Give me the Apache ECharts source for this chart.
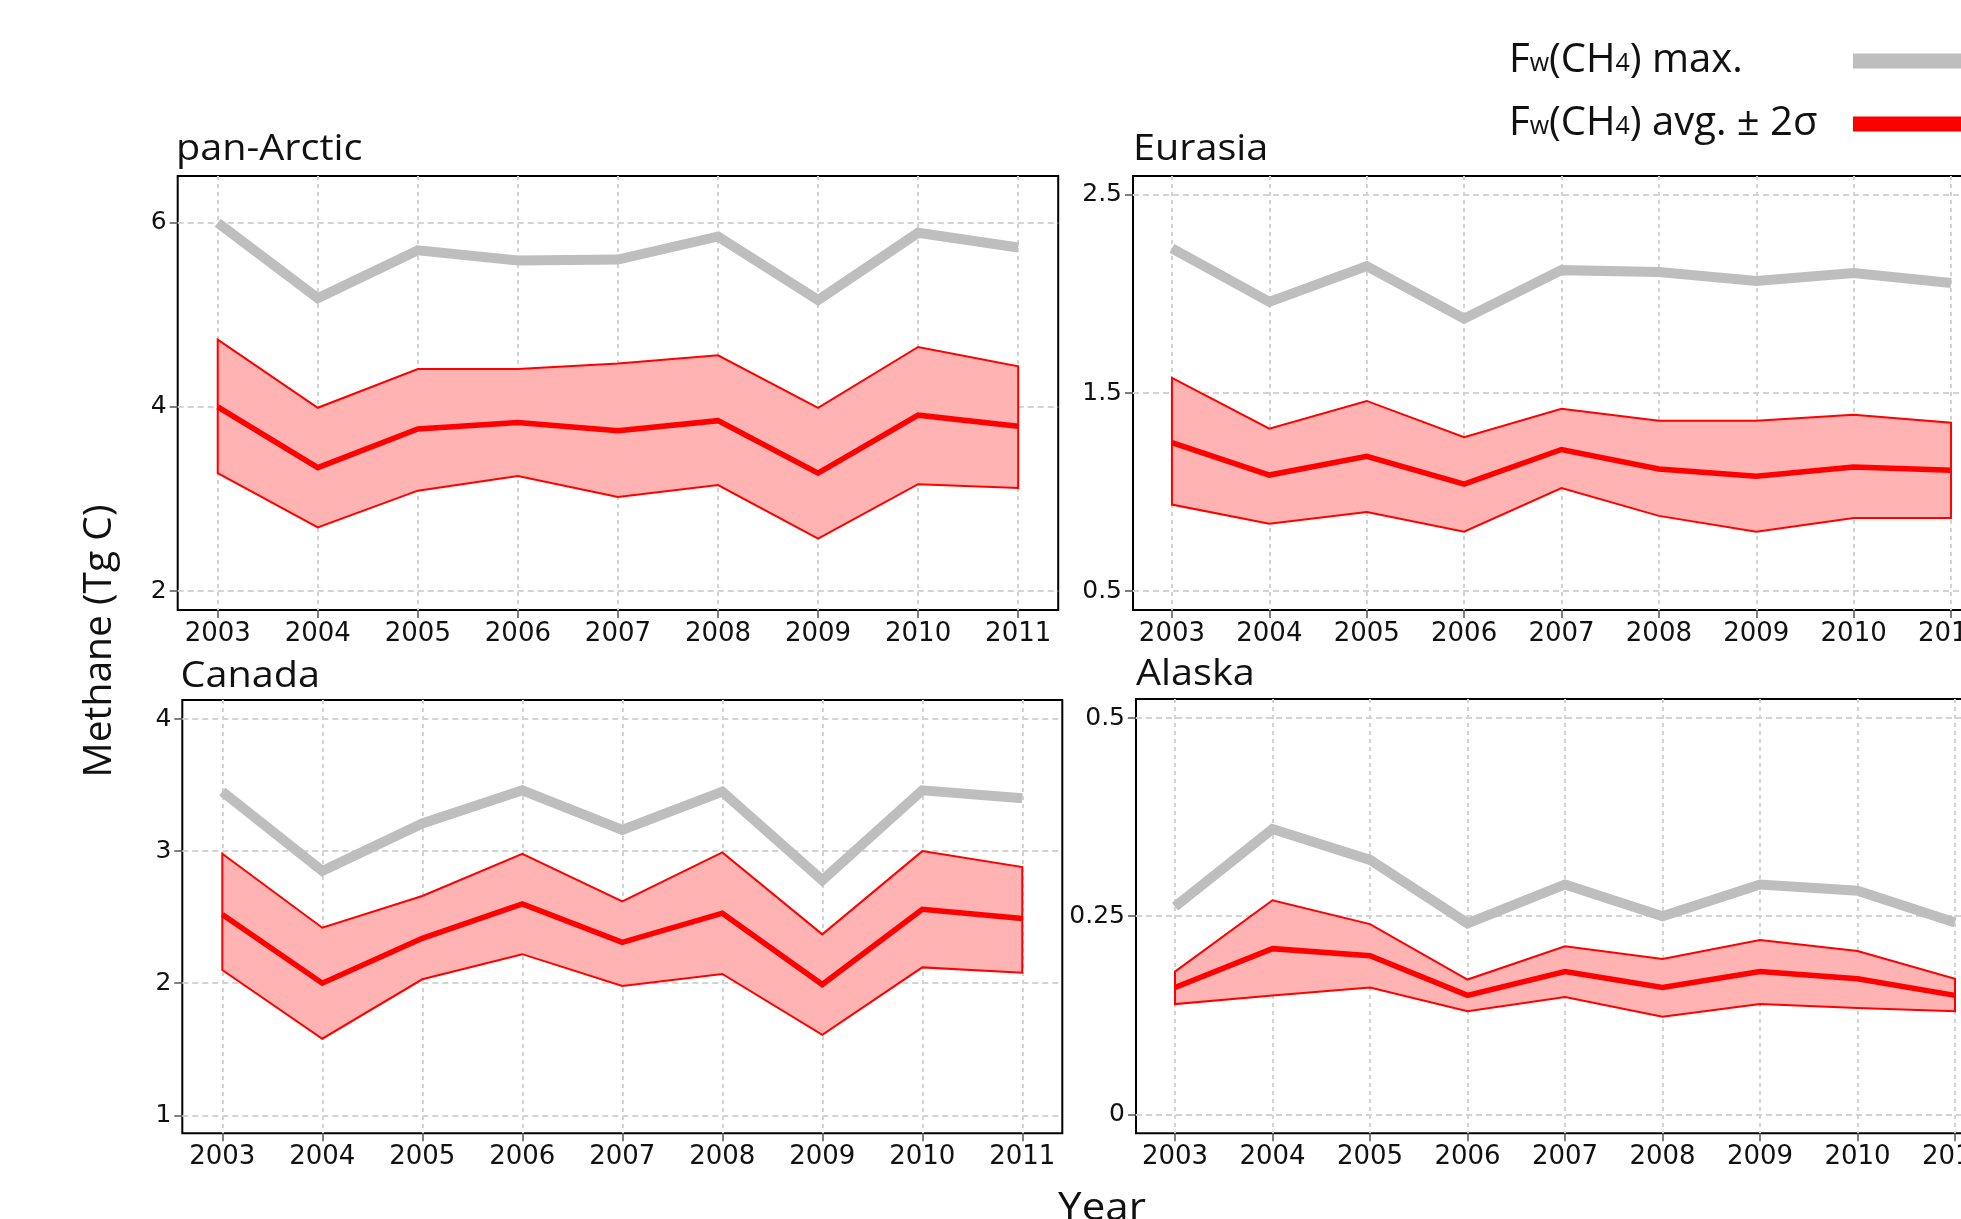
<!DOCTYPE html>
<html>
<head>
<meta charset="utf-8">
<script src="https://cdn.jsdelivr.net/npm/echarts@6/dist/echarts.min.js"></script>
<style>
  html, body { margin: 0; padding: 0; background: #ffffff; }
  #chart { width: 1961px; height: 1219px; }
</style>
</head>
<body>
<div id="chart"></div>
<script>
// Years of the wetland methane flux record
const years = [2003, 2004, 2005, 2006, 2007, 2008, 2009, 2010, 2011];

// pan-Arctic (Tg C)
const panArcticMax   = [6.00, 5.18, 5.70, 5.59, 5.60, 5.85, 5.16, 5.89, 5.73];
const panArcticAvg   = [4.00, 3.34, 3.76, 3.83, 3.74, 3.85, 3.28, 3.91, 3.79];
const panArcticUpper = [4.73, 3.99, 4.41, 4.41, 4.47, 4.56, 3.99, 4.65, 4.44];
const panArcticLower = [3.28, 2.69, 3.09, 3.25, 3.02, 3.15, 2.57, 3.16, 3.12];
const panArcticTicks = [2, 4, 6];

// Eurasia (Tg C)
const eurasiaMax   = [2.23, 1.96, 2.14, 1.875, 2.12, 2.11, 2.065, 2.105, 2.055];
const eurasiaAvg   = [1.25, 1.086, 1.18, 1.04, 1.215, 1.117, 1.08, 1.127, 1.11];
const eurasiaUpper = [1.576, 1.32, 1.46, 1.277, 1.42, 1.36, 1.36, 1.39, 1.35];
const eurasiaLower = [0.937, 0.84, 0.90, 0.80, 1.02, 0.88, 0.80, 0.869, 0.869];
const eurasiaTicks = [0.5, 1.5, 2.5];

// Canada (Tg C)
const canadaMax   = [3.45, 2.85, 3.21, 3.46, 3.16, 3.45, 2.78, 3.46, 3.40];
const canadaAvg   = [2.52, 2.00, 2.34, 2.60, 2.31, 2.53, 1.99, 2.56, 2.49];
const canadaUpper = [2.98, 2.42, 2.66, 2.98, 2.62, 2.99, 2.37, 3.00, 2.88];
const canadaLower = [2.10, 1.58, 2.03, 2.22, 1.98, 2.07, 1.61, 2.12, 2.08];
const canadaTicks = [1, 2, 3, 4];

// Alaska (Tg C)
const alaskaMax   = [0.262, 0.36, 0.321, 0.241, 0.29, 0.25, 0.29, 0.282, 0.242];
const alaskaAvg   = [0.160, 0.209, 0.20, 0.150, 0.18, 0.160, 0.18, 0.171, 0.150];
const alaskaUpper = [0.18, 0.27, 0.24, 0.17, 0.212, 0.196, 0.22, 0.206, 0.171];
const alaskaLower = [0.139, 0.15, 0.16, 0.130, 0.148, 0.123, 0.139, 0.134, 0.130];
const alaskaTicks = [0, 0.25, 0.5];

const regionNames = ['pan-Arctic', 'Eurasia', 'Canada', 'Alaska'];

const panels = [
  { name: regionNames[0], max: panArcticMax, avg: panArcticAvg, upper: panArcticUpper, lower: panArcticLower, ticks: panArcticTicks,
    box: { left: 177.7, top: 176, width: 880.5, height: 434 }, yRange: [1.794, 6.507], title: [176, 150] },
  { name: regionNames[1], max: eurasiaMax, avg: eurasiaAvg, upper: eurasiaUpper, lower: eurasiaLower, ticks: eurasiaTicks,
    box: { left: 1133, top: 176, width: 857, height: 434 }, yRange: [0.405, 2.595], title: [1133, 150] },
  { name: regionNames[2], max: canadaMax, avg: canadaAvg, upper: canadaUpper, lower: canadaLower, ticks: canadaTicks,
    box: { left: 182.3, top: 700, width: 880, height: 433.3 }, yRange: [0.864, 4.144], title: [180.5, 677] },
  { name: regionNames[3], max: alaskaMax, avg: alaskaAvg, upper: alaskaUpper, lower: alaskaLower, ticks: alaskaTicks,
    box: { left: 1136, top: 699, width: 858, height: 434.3 }, yRange: [-0.024, 0.524], title: [1136, 675] }
];

const X_RANGE = [2002.6, 2011.4];
const GREY = '#BEBEBE';
const RED = '#FF0000';
const BAND = '#FFB3B3';
const INK = '#111111';
const TICK_FONT = 'DejaVu Sans';
const TEXT_FONT = 'Open Sans';

const grids = [], xAxes = [], yAxes = [], series = [], graphics = [];

panels.forEach((p, i) => {
  grids.push(Object.assign({
    show: true, borderColor: '#000', borderWidth: 2, backgroundColor: '#fff',
    outerBoundsMode: 'none', containLabel: false
  }, p.box));

  xAxes.push({
    type: 'value', gridIndex: i, min: X_RANGE[0], max: X_RANGE[1],
    axisLine: { show: false, onZero: false },
    axisTick: { show: true, inside: false, length: 8, customValues: years, lineStyle: { color: '#555', width: 1.5 } },
    axisLabel: { customValues: years, formatter: v => String(v), fontFamily: TICK_FONT, fontSize: 26, color: INK, margin: 11 },
    splitLine: { show: true, lineStyle: { color: '#D3D3D3', width: 2, type: [4, 4] } }
  });

  yAxes.push({
    type: 'value', gridIndex: i, min: p.yRange[0], max: p.yRange[1],
    axisLine: { show: false, onZero: false },
    axisTick: { show: true, inside: false, length: 8, customValues: p.ticks, lineStyle: { color: '#555', width: 1.5 } },
    axisLabel: { customValues: p.ticks, formatter: v => String(v), fontFamily: TICK_FONT, fontSize: 25, color: INK, margin: 11 },
    splitLine: { show: true, lineStyle: { color: '#D3D3D3', width: 2, type: [6, 4] } }
  });

  // ±2σ envelope: filled polygon between the upper and lower bounds
  series.push({
    type: 'custom', name: 'band', xAxisIndex: i, yAxisIndex: i, silent: true, z: 1,
    data: years.map((y, k) => [y, p.lower[k], p.upper[k]]),
    encode: { x: 0, y: [1, 2] },
    renderItem: (params, api) => {
      if (params.dataIndex !== 0) return null;
      const top = years.map((y, k) => api.coord([y, p.upper[k]]));
      const bottom = years.map((y, k) => api.coord([y, p.lower[k]])).reverse();
      return {
        type: 'polygon',
        shape: { points: top.concat(bottom) },
        style: { fill: BAND, stroke: RED, lineWidth: 2, lineJoin: 'miter' }
      };
    }
  });

  series.push({
    type: 'line', name: 'max', xAxisIndex: i, yAxisIndex: i, silent: true, z: 3,
    data: years.map((y, k) => [y, p.max[k]]),
    symbol: 'none', color: GREY,
    lineStyle: { color: GREY, width: 10, join: 'miter', cap: 'butt' }
  });

  series.push({
    type: 'line', name: 'avg', xAxisIndex: i, yAxisIndex: i, silent: true, z: 4,
    data: years.map((y, k) => [y, p.avg[k]]),
    symbol: 'none', color: RED,
    lineStyle: { color: RED, width: 5.5, join: 'miter', cap: 'butt' }
  });

  graphics.push({
    type: 'text', x: p.title[0], y: p.title[1], scaleX: 1.1,
    style: { text: p.name, fontFamily: TEXT_FONT, fontSize: 36, fill: INK, align: 'left', verticalAlign: 'middle' }
  });
});

// Shared axis names
graphics.push({
  type: 'text', x: 100, y: 641, rotation: Math.PI / 2,
  style: { text: 'Methane (Tg C)', fontFamily: TEXT_FONT, fontSize: 39, fill: INK, align: 'center', verticalAlign: 'middle' }
});
graphics.push({
  type: 'text', x: 1102, y: 1209, scaleX: 1.08,
  style: { text: 'Year', fontFamily: TEXT_FONT, fontSize: 39, fill: INK, align: 'center', verticalAlign: 'middle' }
});

// Legend labels: F with subscript w, CH with subscript 4.
// Each label is padded to the same width so the texts line up on the left
// while the swatches stay in one column.
const LEGEND_SIZE = 40, LEGEND_SUB = 25, LEGEND_TEXT_W = 339;
const legendParts = {
  max: [['t', 'F'], ['s', 'w'], ['t', '(CH'], ['s', '4'], ['t', ') max.']],
  avg: [['t', 'F'], ['s', 'w'], ['t', '(CH'], ['s', '4'], ['t', ') avg. \u00B1 2\u03C3']]
};
const measureCtx = document.createElement('canvas').getContext('2d');
function partWidth(kind, str) {
  measureCtx.font = (kind === 't' ? LEGEND_SIZE : LEGEND_SUB) + 'px "' + TEXT_FONT + '"';
  return measureCtx.measureText(str).width;
}
const legendRich = {
  t: { fontFamily: TEXT_FONT, fontSize: LEGEND_SIZE, color: INK, lineHeight: 46 },
  s: { fontFamily: TEXT_FONT, fontSize: LEGEND_SUB, color: INK, lineHeight: 46, padding: [6, 0, 0, 0] }
};
const legendLabels = {};
Object.keys(legendParts).forEach(key => {
  const parts = legendParts[key];
  const used = parts.reduce((acc, [kind, str]) => acc + partWidth(kind, str), 0);
  const gapName = 'gap_' + key;
  legendRich[gapName] = { width: Math.max(1, LEGEND_TEXT_W - used), fontSize: LEGEND_SUB, lineHeight: 46 };
  legendLabels[key] = parts.map(([kind, str]) => '{' + kind + '|' + str + '}').join('') + '{' + gapName + '| }';
});

const option = {
  animation: false,
  backgroundColor: '#ffffff',
  grid: grids,
  xAxis: xAxes,
  yAxis: yAxes,
  series: series,
  graphic: graphics,
  legend: {
    data: ['max', 'avg'],
    orient: 'vertical', left: 1509, top: 41, padding: 0,
    align: 'right', icon: 'rect', itemWidth: 140, itemHeight: 15, itemGap: 23,
    selectedMode: false,
    formatter: name => legendLabels[name],
    textStyle: { rich: legendRich }
  }
};

const chart = echarts.init(document.getElementById('chart'), null, { renderer: 'canvas' });
chart.setOption(option);
</script>
</body>
</html>
